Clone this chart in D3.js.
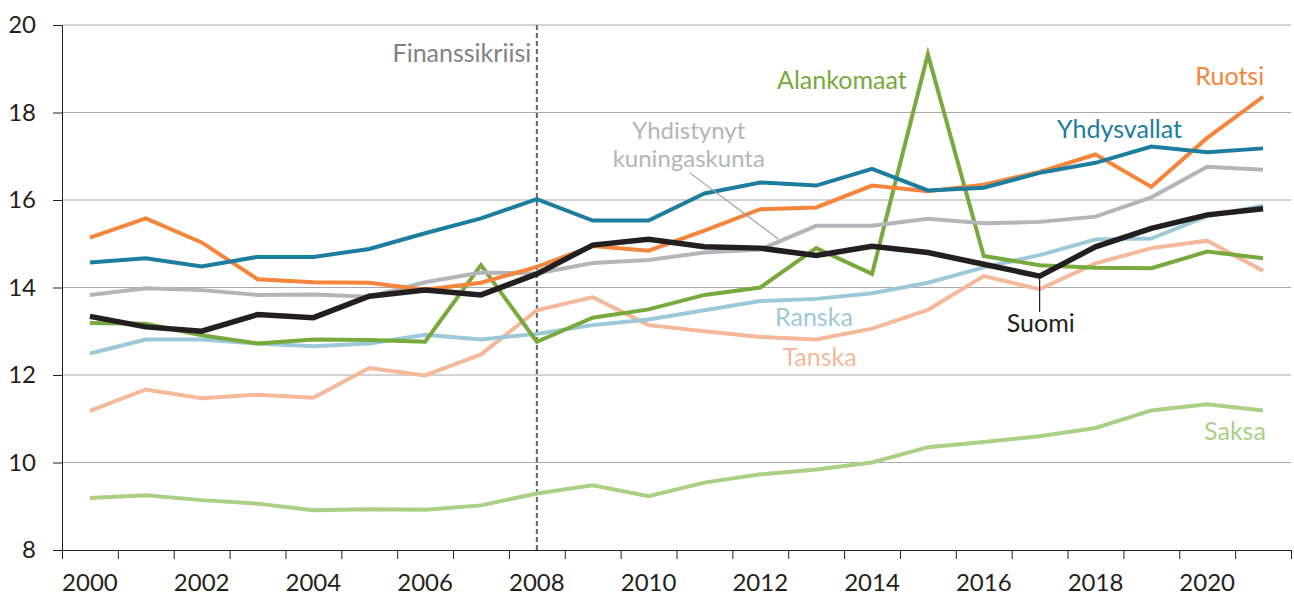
<!DOCTYPE html>
<html>
<head>
<meta charset="utf-8">
<script src="https://cdn.jsdelivr.net/npm/d3@7"></script>
<style>
  body { margin: 0; background: #fff; }
  svg text { font-family: Lato, "Open Sans", sans-serif; }
</style>
</head>
<body>
<div id="chart"></div>
<script>
const years = [2000, 2001, 2002, 2003, 2004, 2005, 2006, 2007, 2008, 2009, 2010,
               2011, 2012, 2013, 2014, 2015, 2016, 2017, 2018, 2019, 2020, 2021];
const yTicks = [8, 10, 12, 14, 16, 18, 20];
const xLabels = [2000, 2002, 2004, 2006, 2008, 2010, 2012, 2014, 2016, 2018, 2020];

const saksa = [9.19, 9.25, 9.14, 9.06, 8.91, 8.93, 8.92, 9.02, 9.29, 9.48, 9.23,
               9.54, 9.73, 9.84, 10.0, 10.35, 10.47, 10.6, 10.79, 11.19, 11.33, 11.19];
const tanska = [11.18, 11.67, 11.47, 11.55, 11.48, 12.16, 11.99, 12.47, 13.48, 13.78, 13.14,
                13.0, 12.87, 12.81, 13.06, 13.49, 14.26, 13.96, 14.55, 14.9, 15.07, 14.38];
const ranska = [12.49, 12.81, 12.81, 12.72, 12.66, 12.72, 12.92, 12.81, 12.94, 13.14, 13.27,
                13.48, 13.69, 13.74, 13.87, 14.11, 14.46, 14.74, 15.1, 15.12, 15.63, 15.87];
const alankomaat = [13.19, 13.17, 12.91, 12.72, 12.81, 12.8, 12.76, 14.51, 12.76, 13.31, 13.5,
                    13.83, 14.0, 14.9, 14.31, 19.33, 14.72, 14.51, 14.45, 14.44, 14.82, 14.67];
const uk = [13.83, 13.98, 13.94, 13.83, 13.84, 13.79, 14.12, 14.34, 14.32, 14.56, 14.63,
            14.8, 14.87, 15.41, 15.41, 15.57, 15.47, 15.5, 15.62, 16.06, 16.76, 16.69];
const ruotsi = [15.14, 15.58, 15.03, 14.19, 14.12, 14.11, 13.95, 14.11, 14.47, 14.95, 14.84,
                15.3, 15.79, 15.83, 16.33, 16.2, 16.35, 16.64, 17.04, 16.3, 17.42, 18.36];
const yhdysvallat = [14.57, 14.67, 14.48, 14.7, 14.7, 14.88, 15.24, 15.58, 16.02, 15.53, 15.53,
                     16.15, 16.4, 16.33, 16.71, 16.22, 16.28, 16.62, 16.85, 17.22, 17.09, 17.18];
const suomi = [13.34, 13.1, 13.0, 13.38, 13.31, 13.8, 13.94, 13.83, 14.31, 14.97, 15.1,
               14.93, 14.9, 14.73, 14.94, 14.8, 14.53, 14.26, 14.93, 15.35, 15.66, 15.8];

const series = [
  {name: "Saksa", values: saksa, color: "#aacf85", w: 4},
  {name: "Tanska", values: tanska, color: "#f4b89b", w: 4},
  {name: "Ranska", values: ranska, color: "#9dc8d7", w: 4},
  {name: "Alankomaat", values: alankomaat, color: "#78a93c", w: 4},
  {name: "UK", values: uk, color: "#b4b5b8", w: 4},
  {name: "Ruotsi", values: ruotsi, color: "#f4853a", w: 4},
  {name: "Yhdysvallat", values: yhdysvallat, color: "#1c7d9f", w: 4},
  {name: "Suomi", values: suomi, color: "#231f20", w: 5.5}
];

const width = 1294, height = 597;
const margin = {top: 25, right: 3, bottom: 47, left: 62};

const svg = d3.select("#chart")
  .append("svg")
    .attr("width", width)
    .attr("height", height);

// year scale runs from band edge to band edge
const x = d3.scaleLinear()
    .domain([years[0] - 0.5, years[years.length - 1] + 0.5])
    .range([margin.left, width - margin.right]);

const y = d3.scaleLinear()
    .domain([8, 20])
    .range([height - margin.bottom, margin.top]);

// gridlines
svg.append("g")
  .selectAll("line")
  .data(yTicks.filter(d => d > 8))
  .enter()
  .append("line")
    .attr("x1", x.range()[0])
    .attr("x2", x.range()[1])
    .attr("y1", d => y(d))
    .attr("y2", d => y(d))
    .attr("stroke", "#a8a8a8")
    .attr("stroke-width", 1);

// Y axis
const yAxis = svg.append("g")
    .attr("transform", "translate(" + margin.left + ",0)")
    .call(d3.axisLeft(y).tickValues(yTicks).tickSize(9).tickPadding(17));
yAxis.selectAll("text")
    .style("font-size", "24px")
    .attr("fill", "#231f20");
yAxis.selectAll("line, path").attr("stroke", "#231f20");

// X axis: ticks between years
const edges = years.map(d => d - 0.5).concat([years[years.length - 1] + 0.5]);
const xAxis = svg.append("g")
    .attr("transform", "translate(0," + y(8) + ")")
    .call(d3.axisBottom(x).tickValues(edges).tickFormat("").tickSize(9).tickSizeOuter(0));
xAxis.selectAll("line, path").attr("stroke", "#231f20");
xAxis.select("path").attr("d", "M" + (margin.left - 9) + ",0.5H" + x.range()[1]);

svg.append("g")
  .selectAll("text")
  .data(xLabels)
  .enter()
  .append("text")
    .attr("x", d => x(d))
    .attr("y", y(8) + 41)
    .attr("text-anchor", "middle")
    .style("font-size", "24px")
    .attr("fill", "#231f20")
    .text(d => d);

// financial crisis marker
svg.append("line")
    .attr("x1", x(2008))
    .attr("x2", x(2008))
    .attr("y1", y(20))
    .attr("y2", y(8))
    .attr("stroke", "#636466")
    .attr("stroke-width", 2)
    .attr("stroke-dasharray", "5,3");

// lines
const line = d3.line()
    .x((d, i) => x(years[i]))
    .y(d => y(d));

svg.append("g")
  .selectAll("path")
  .data(series)
  .enter()
  .append("path")
    .attr("d", d => line(d.values))
    .attr("fill", "none")
    .attr("stroke", d => d.color)
    .attr("stroke-width", d => d.w)
    .attr("stroke-linejoin", "miter");

// leader lines
const leaders = [
  {x1: 2010.74, y1: 16.62, x2: 2012.32, y2: 15.11, color: "#9d9fa2"},
  {x1: 2017.0, y1: 14.2, x2: 2017.0, y2: 13.44, color: "#231f20"}
];
svg.append("g")
  .selectAll("line")
  .data(leaders)
  .enter()
  .append("line")
    .attr("x1", d => x(d.x1))
    .attr("x2", d => x(d.x2))
    .attr("y1", d => y(d.y1))
    .attr("y2", d => y(d.y2))
    .attr("stroke", d => d.color)
    .attr("stroke-width", 1.2);

// labels
const labels = [
  {text: "Finanssikriisi", x: 2007.9, y: 19.15, anchor: "end", color: "#808285", size: 25},
  {text: "Alankomaat", x: 2013.46, y: 18.54, anchor: "middle", color: "#78a93c", size: 25},
  {text: "Yhdistynyt", x: 2010.72, y: 17.39, anchor: "middle", color: "#b4b5b8", size: 24},
  {text: "kuningaskunta", x: 2010.72, y: 16.76, anchor: "middle", color: "#b4b5b8", size: 24},
  {text: "Yhdysvallat", x: 2018.43, y: 17.42, anchor: "middle", color: "#1c7d9f", size: 25},
  {text: "Ruotsi", x: 2021.02, y: 18.63, anchor: "end", color: "#f4853a", size: 25},
  {text: "Ranska", x: 2012.96, y: 13.12, anchor: "middle", color: "#9dc8d7", size: 25},
  {text: "Tanska", x: 2013.06, y: 12.21, anchor: "middle", color: "#f4b89b", size: 25},
  {text: "Suomi", x: 2017.02, y: 12.98, anchor: "middle", color: "#231f20", size: 25},
  {text: "Saksa", x: 2021.05, y: 10.51, anchor: "end", color: "#aacf85", size: 25}
];
svg.append("g")
  .selectAll("text")
  .data(labels)
  .enter()
  .append("text")
    .attr("x", d => x(d.x))
    .attr("y", d => y(d.y))
    .attr("text-anchor", d => d.anchor)
    .attr("fill", d => d.color)
    .style("font-size", d => d.size + "px")
    .text(d => d.text);
</script>
</body>
</html>
